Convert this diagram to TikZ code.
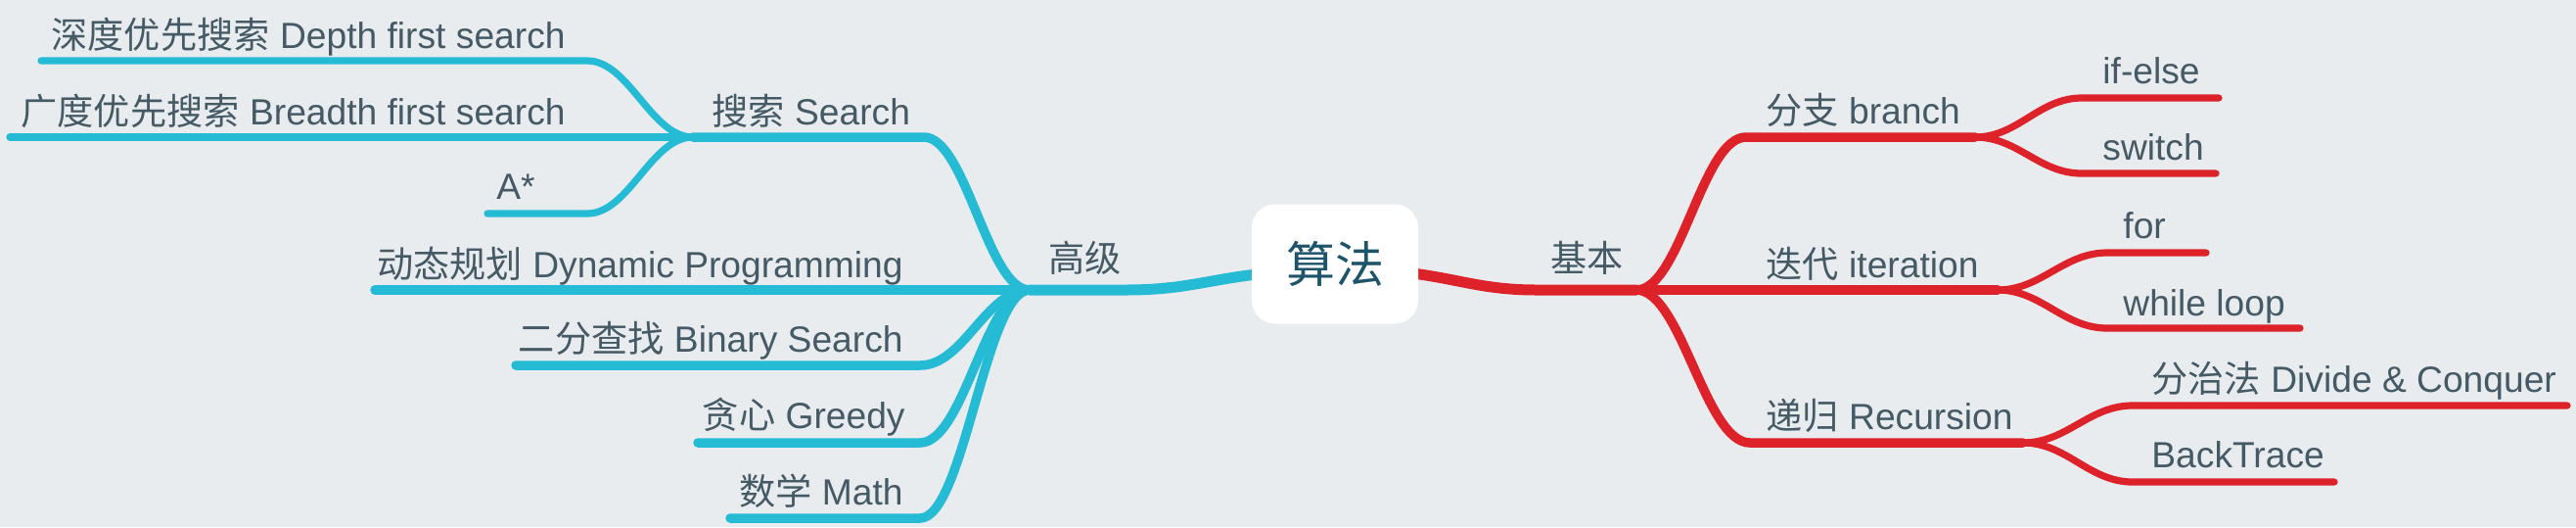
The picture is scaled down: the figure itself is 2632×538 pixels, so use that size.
\documentclass[tikz,border=0pt]{standalone}
\usepackage{fontspec}
\setmainfont{Liberation Sans}
\newfontfamily\cjkf{Noto Sans CJK SC}
\newcommand\zh[1]{{\cjkf #1}}
\usetikzlibrary{calc,backgrounds}
\definecolor{bgc}{RGB}{232,236,239}
\definecolor{blu}{RGB}{38,187,212}
\definecolor{rd}{RGB}{221,34,41}
\definecolor{txt}{RGB}{69,90,100}
\definecolor{roottxt}{RGB}{30,84,106}
\tikzset{
  lbl/.style={inner sep=0pt, text=txt, font=\fontsize{18.6}{21}\selectfont},
  rootbox/.style={fill=white, rounded corners=12pt, minimum width=85pt, minimum height=61pt, inner sep=0pt, text=roottxt, font=\fontsize{25}{28}\selectfont},
  b0/.style={draw=blu, line width=5.5pt, line cap=round},
  b1/.style={draw=blu, line width=4.75pt, line cap=round},
  b2/.style={draw=blu, line width=3.6pt, line cap=round},
  r0/.style={draw=rd, line width=5.5pt, line cap=round},
  r1/.style={draw=rd, line width=4.75pt, line cap=round},
  r2/.style={draw=rd, line width=3.6pt, line cap=round},
}
\begin{document}
\begin{tikzpicture}[x=0.5pt,y=-0.5pt]
% root
\node[rootbox] (root) at (1364,269.5) {\zh{算法}};

% left labels
\node[lbl,anchor=base east] (dfs) at (578,49) {\zh{深度优先搜索} Depth first search};
\node[lbl,anchor=base east] (bfs) at (578,127) {\zh{广度优先搜索} Breadth first search};
\node[lbl,anchor=base west] (se) at (727,127) {\zh{搜索} Search};
\node[lbl,anchor=base west] (as) at (507,203) {A*};
\node[lbl,anchor=base east] (dp) at (923,283) {\zh{动态规划} Dynamic Programming};
\node[lbl,anchor=base east] (bi) at (923,359) {\zh{二分查找} Binary Search};
\node[lbl,anchor=base east] (gr) at (925,437) {\zh{贪心} Greedy};
\node[lbl,anchor=base east] (ma) at (923,515) {\zh{数学} Math};
\node[lbl,anchor=base west] (hi) at (1071,277) {\zh{高级}};
% right labels
\node[lbl,anchor=base west] (ba) at (1584,277) {\zh{基本}};
\node[lbl,anchor=base west] (br) at (1804,126) {\zh{分支} branch};
\node[lbl,anchor=base west] (ie) at (2148,85) {if-else};
\node[lbl,anchor=base west] (sw) at (2148,163) {switch};
\node[lbl,anchor=base west] (it) at (1804,283) {\zh{迭代} iteration};
\node[lbl,anchor=base west] (fo) at (2169,243) {for};
\node[lbl,anchor=base west] (wh) at (2169,322) {while loop};
\node[lbl,anchor=base west] (re) at (1804,438) {\zh{递归} Recursion};
\node[lbl,anchor=base west] (dc) at (2198,400) {\zh{分治法} Divide \& Conquer};
\node[lbl,anchor=base west] (bt) at (2198,477) {BackTrace};

% coordinates
\coordinate (js) at (708,140);
\coordinate (dfs-r) at (600,62);  \coordinate (dfs-l) at (42,62);
\coordinate (bfs-l) at (10,140);
\coordinate (as-r) at (600,218);  \coordinate (as-l) at (498,218);
\coordinate (se-r) at (944,140);
\coordinate (jh) at (1052,296);
\coordinate (hi-r) at (1150,296);
\coordinate (dp-l) at (383,296);
\coordinate (bi-r) at (940,373);  \coordinate (bi-l) at (527,373);
\coordinate (gr-r) at (940,452);  \coordinate (gr-l) at (713,452);
\coordinate (ma-r) at (940,529);  \coordinate (ma-l) at (746,529);
\coordinate (ba-l) at (1570,296); \coordinate (jb) at (1672,296);
\coordinate (br-l) at (1784,140); \coordinate (jbr) at (2018,140);
\coordinate (ie-l) at (2127,100); \coordinate (ie-r) at (2267,100);
\coordinate (sw-l) at (2127,177); \coordinate (sw-r) at (2264,177);
\coordinate (jit) at (2041,296);
\coordinate (fo-l) at (2153,258); \coordinate (fo-r) at (2254,258);
\coordinate (wh-l) at (2153,335); \coordinate (wh-r) at (2350,335);
\coordinate (re-l) at (1788,452); \coordinate (jrc) at (2067,452);
\coordinate (dc-l) at (2179,414); \coordinate (dc-r) at (2623,414);
\coordinate (bt-l) at (2179,492); \coordinate (bt-r) at (2385,492);

\begin{pgfonlayer}{background}
\fill[bgc] (0,0) rectangle (2632,538);
% blue
\draw[b0] ($(root.west)+(10,10)$) .. controls +(-55,6) and +(60,0) .. (hi-r) -- (jh);
\draw[b1] (jh) .. controls +(-43,0) and +(43,0) .. (se-r) -- (js);
\draw[b1] (jh) -- (dp-l);
\draw[b1] (jh) .. controls +(-45,0) and +(45,0) .. (bi-r) -- (bi-l);
\draw[b1] (jh) .. controls +(-45,0) and +(45,0) .. (gr-r) -- (gr-l);
\draw[b1] (jh) .. controls +(-45,0) and +(45,0) .. (ma-r) -- (ma-l);
\draw[b2] (js) .. controls +(-43,0) and +(43,0) .. (dfs-r) -- (dfs-l);
\draw[b2] (js) -- (bfs-l);
\draw[b2] (js) .. controls +(-43,0) and +(43,0) .. (as-r) -- (as-l);
% red
\draw[r0] ($(root.east)+(-10,9)$) .. controls +(50,6) and +(-55,0) .. (ba-l) -- (jb);
\draw[r1] (jb) .. controls +(45,0) and +(-45,0) .. (br-l) -- (jbr);
\draw[r1] (jb) -- (jit);
\draw[r1] (jb) .. controls +(46,0) and +(-46,0) .. (re-l) -- (jrc);
\draw[r2] (jbr) .. controls +(44,0) and +(-44,0) .. (ie-l) -- (ie-r);
\draw[r2] (jbr) .. controls +(44,0) and +(-44,0) .. (sw-l) -- (sw-r);
\draw[r2] (jit) .. controls +(45,0) and +(-45,0) .. (fo-l) -- (fo-r);
\draw[r2] (jit) .. controls +(45,0) and +(-45,0) .. (wh-l) -- (wh-r);
\draw[r2] (jrc) .. controls +(45,0) and +(-45,0) .. (dc-l) -- (dc-r);
\draw[r2] (jrc) .. controls +(45,0) and +(-45,0) .. (bt-l) -- (bt-r);
\end{pgfonlayer}
\end{tikzpicture}
\end{document}
